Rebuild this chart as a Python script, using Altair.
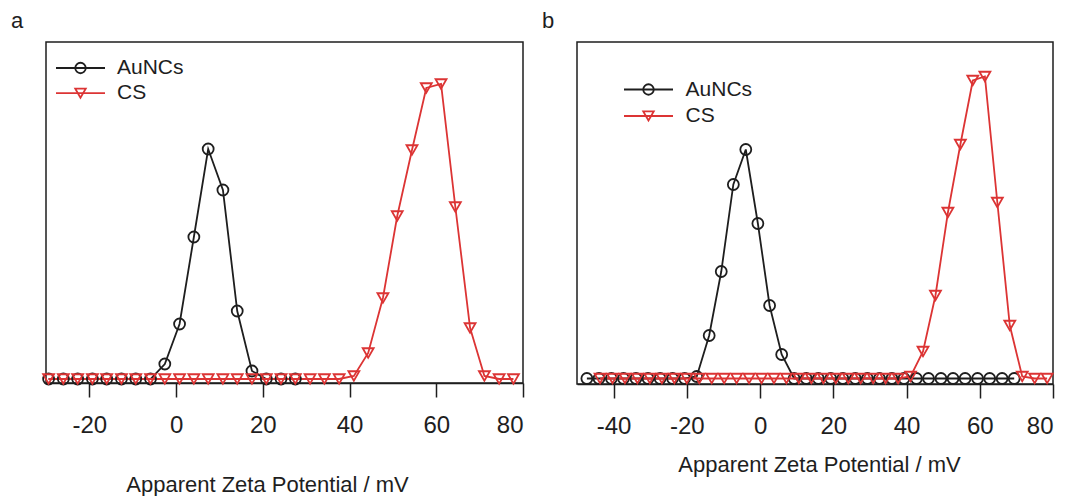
import altair as alt
import pandas as pd

BLACK = "#1e1e1e"
RED = "#dc3434"
FONT = "Liberation Sans"
SERIES = ["AuNCs", "CS"]

# ---- panel a data (apparent zeta potential, mV ; intensity, arbitrary units)
a_x_au = [-29.4, -26.0, -22.7, -19.3, -16.0, -12.6, -9.3, -5.9, -2.6, 0.8, 4.1, 7.4,
          10.8, 14.1, 17.5, 20.8, 24.2, 27.5]
a_y_au = [0, 0, 0, 0, 0, 0, 0, 0, 15, 55, 142, 230, 189, 68, 8, 0, 0, 0]

a_x_cs = [-29.4, -26.0, -22.7, -19.3, -16.0, -12.6, -9.3, -5.9, -2.6, 0.8, 4.1, 7.4,
          10.8, 14.1, 17.5, 20.8, 24.2, 27.5, 30.9, 34.2, 37.6, 41.0, 44.3, 47.7,
          51.0, 54.4, 57.7, 61.1, 64.4, 67.8, 71.1, 74.5, 77.8]
a_y_cs = [0, 0, 0, 0, 0, 0, 0, 0, 0, 0, 0, 0, 0, 0, 0, 0, 0, 0, 0, 0, 0,
          3, 26, 81, 163, 229, 291, 295, 172, 51, 3, 0, 0]

# ---- panel b data
b_x_au = [-47.3, -44.0, -40.6, -37.3, -33.9, -30.6, -27.3, -23.9, -20.6, -17.3, -13.9,
          -10.6, -7.3, -3.9, -0.6, 2.6, 5.9, 9.3, 12.6, 15.9, 19.3, 22.6, 26.0, 29.3,
          32.6, 36.0, 39.3, 42.7, 46.0, 49.4, 52.7, 56.0, 59.4, 62.7, 66.1, 69.4]
b_y_au = [0, 0, 0, 0, 0, 0, 0, 0, 0, 2, 43, 107, 194, 229, 155, 73, 24, 0,
          0, 0, 0, 0, 0, 0, 0, 0, 0, 0, 0, 0, 0, 0, 0, 0, 0, 0]

b_x_cs = [-43.7, -40.3, -36.9, -33.5, -30.1, -26.8, -23.4, -20.0, -16.6, -13.2, -9.8,
          -6.4, -3.0, 0.4, 3.8, 7.2, 10.6, 14.0, 17.3, 20.7, 24.1, 27.5, 30.9, 34.3,
          37.7, 41.1, 44.5, 47.9, 51.3, 54.7, 58.1, 61.4, 64.8, 68.2, 71.6, 75.0, 78.4]
b_y_cs = [0, 0, 0, 0, 0, 0, 0, 0, 0, 0, 0, 0, 0, 0, 0, 0, 0, 0, 0, 0, 0, 0, 0, 0, 0,
          2, 27, 83, 166, 234, 298, 302, 176, 53, 2, 0, 0]

a_ticks = [-20, 0, 20, 40, 60, 80]
b_ticks = [-40, -20, 0, 20, 40, 60, 80]
x_title = "Apparent Zeta Potential / mV"


def frame(x_au, y_au, x_cs, y_cs):
    d1 = pd.DataFrame({"x": x_au, "y": y_au, "series": "AuNCs"})
    d2 = pd.DataFrame({"x": x_cs, "y": y_cs, "series": "CS"})
    return pd.concat([d1, d2], ignore_index=True)


def legend_item(name, color, shape, lx0, lx1, ly, tx):
    one = pd.DataFrame({"k": [0]})
    rule = alt.Chart(one).mark_rule(color=color, strokeWidth=1.8).encode(
        x=alt.value(lx0), x2=alt.value(lx1), y=alt.value(ly))
    pt = alt.Chart(one).mark_point(shape=shape, filled=False, color=color, opacity=1,
                                   strokeWidth=1.8, size=110).encode(
        x=alt.value((lx0 + lx1) / 2), y=alt.value(ly))
    txt = alt.Chart(one).mark_text(align="left", baseline="middle", font=FONT,
                                   fontSize=21, color=BLACK).encode(
        x=alt.value(tx), y=alt.value(ly), text=alt.value(name))
    return [rule, pt, txt]


def panel(df, xdom, ticks, width, height, ydom, leg, label, label_y, title_x, title_y):
    color = alt.Color("series:N", scale=alt.Scale(domain=SERIES, range=[BLACK, RED]), legend=None)
    shape = alt.Shape("series:N", scale=alt.Scale(domain=SERIES, range=["circle", "triangle-down"]),
                      legend=None)
    x = alt.X("x:Q", scale=alt.Scale(domain=xdom, nice=False, zero=False),
              axis=alt.Axis(values=ticks, title=x_title, titleX=title_x, titleY=title_y,
                            titleBaseline="middle", titleAlign="center",
                            labelExpr="datum.value + ''"))
    y = alt.Y("y:Q", scale=alt.Scale(domain=ydom, nice=False, zero=False), axis=None)
    base = alt.Chart(df)
    lines = base.mark_line(strokeWidth=1.8).encode(x=x, y=y, color=color, detail="series:N")
    pts = base.mark_point(filled=False, opacity=1, strokeWidth=1.8, size=120).encode(
        x=x, y=y, color=color, shape=shape)
    layers = [lines, pts]
    (lx0, lx1, ly1, ly2, tx) = leg
    layers += legend_item("AuNCs", BLACK, "circle", lx0, lx1, ly1, tx)
    layers += legend_item("CS", RED, "triangle-down", lx0, lx1, ly2, tx)
    lab = alt.Chart(pd.DataFrame({"k": [0]})).mark_text(
        font=FONT, fontSize=22, color=BLACK, align="center", baseline="middle").encode(
        x=alt.value(-29), y=alt.value(label_y), text=alt.value(label))
    layers.append(lab)
    return alt.layer(*layers).properties(width=width, height=height)


pa = panel(frame(a_x_au, a_y_au, a_x_cs, a_y_cs), [-30, 80], a_ticks, 477, 341, [-4, 337],
           (10, 59, 26, 51.2, 71), "a", -21.5, 221, 101)
pb = panel(frame(b_x_au, b_y_au, b_x_cs, b_y_cs), [-50, 80], b_ticks, 476, 342, [-5.5, 336.5],
           (47, 96, 47.5, 74, 108.6), "b", -21.5, 242, 80.5)

chart = alt.hconcat(pa, pb, spacing=16).properties(
    padding={"left": 2, "top": 0, "right": 0, "bottom": 0}
).configure_view(stroke=BLACK, strokeWidth=1.5).configure_axis(
    grid=False, labelFont=FONT, labelFontSize=24, labelColor=BLACK, labelPadding=16.5,
    tickSize=14, tickWidth=1.5, tickColor=BLACK, domainColor=BLACK, domainWidth=1.5,
    titleFont=FONT, titleFontSize=22, titleFontWeight="normal", titleColor=BLACK
)

chart.save("out.html", embed_options={"renderer": "svg", "actions": False})
